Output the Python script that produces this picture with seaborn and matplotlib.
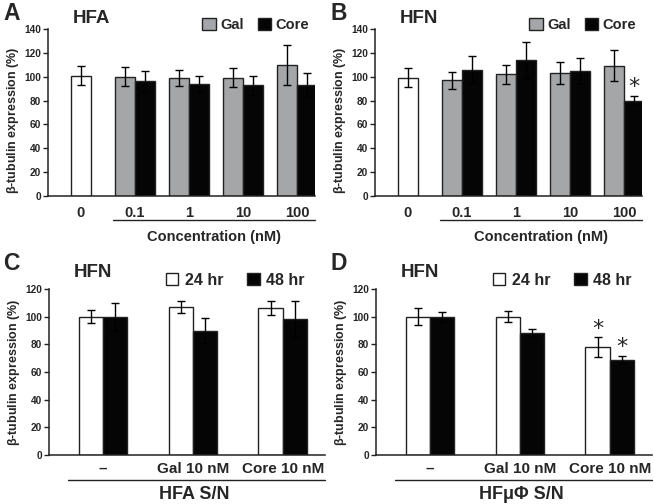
import matplotlib
matplotlib.use("Agg")
import matplotlib.pyplot as plt
import matplotlib.transforms as mtransforms
from matplotlib.patches import Patch
import seaborn as sns
import pandas as pd

sns.set_theme(style="ticks")
plt.rcParams["font.family"] = ["Liberation Sans", "DejaVu Sans"]
plt.rcParams["font.weight"] = "bold"
plt.rcParams["mathtext.fontset"] = "custom"
plt.rcParams["mathtext.rm"] = "Liberation Sans"
plt.rcParams["mathtext.default"] = "regular"

# ---------------- data ----------------
conc_labels = ["0", "0.1", "1", "10", "100"]
treat_concs = ["0.1", "1", "10", "100"]

A_ctrl, A_ctrl_err = 101, 8
A_gal = [100, 99, 99, 110]
A_gal_err = [8, 7, 8, 17]
A_core = [96, 94, 93, 93]
A_core_err = [9, 7, 8, 10]

B_ctrl, B_ctrl_err = 99, 8
B_gal = [97, 102, 103, 109]
B_gal_err = [7, 8, 9, 13]
B_core = [106, 114, 105, 80]
B_core_err = [11, 15, 11, 4]
B_star = [False, False, False, True]

sn_labels = ["\u2013", "Gal 10 nM", "Core 10 nM"]
C_24 = [100, 107, 106]
C_24_err = [4.5, 4, 5]
C_48 = [100, 90, 98]
C_48_err = [10, 9, 13]

D_24 = [100, 100, 78]
D_24_err = [6, 4, 7]
D_48 = [100, 88, 69]
D_48_err = [3.5, 3, 2.5]
D_star24 = [False, False, True]
D_star48 = [False, False, True]

GRAY = "#a4a6a9"
BLACK = "#050505"
EDGE = "#222222"

fig = plt.figure(figsize=(6.54, 5.04), dpi=100)


def style_axis(ax, ymax, label_y):
    sns.despine(ax=ax)
    for s in ["left", "bottom"]:
        ax.spines[s].set_linewidth(1.1)
        ax.spines[s].set_color("#222222")
    ax.set_ylim(0, ymax)
    ax.set_yticks(range(0, ymax + 1, 20))
    ax.tick_params(axis="y", length=3.5, width=1.0, pad=1.5, color="#222222",
                   labelsize=7.3)
    for t in ax.get_yticklabels():
        t.set_fontweight("bold")
    ax.set_xlabel("")
    ax.set_ylabel(r"$\beta$-tubulin expression (%)", fontsize=9,
                  fontweight="bold", labelpad=2.5)
    ax.yaxis.label.set_y(label_y)


def add_errorbars(ax, containers, errs):
    tops = []
    for cont, err in zip(containers, errs):
        xs = [b.get_x() + b.get_width() / 2 for b in cont]
        hs = [b.get_height() for b in cont]
        ax.errorbar(xs, hs, yerr=err, fmt="none", ecolor="black",
                    elinewidth=1.0, capsize=3, capthick=1.0, zorder=5)
        tops.append(list(zip(xs, [h + e for h, e in zip(hs, err)])))
    return tops


def put_stars(ax, ser, flags):
    for (x, top), s in zip(ser, flags):
        if s:
            ax.annotate("*", (x, top), xytext=(0, -1), textcoords="offset points",
                        ha="center", va="bottom", fontsize=16, fontweight="normal",
                        family="DejaVu Sans")


def conc_panel(ax, ctrl, ctrl_err, gal, gal_err, core, core_err, title, stars=None):
    df = pd.DataFrame({
        "conc": treat_concs * 2,
        "val": gal + core,
        "grp": ["Gal"] * 4 + ["Core"] * 4,
    })
    sns.barplot(data=df, x="conc", y="val", hue="grp", order=conc_labels,
                hue_order=["Gal", "Core"], palette=[GRAY, BLACK], width=0.74,
                errorbar=None, edgecolor=EDGE, linewidth=1.0, legend=False, ax=ax)
    hue_conts = list(ax.containers)
    dfc = pd.DataFrame({"conc": ["0"], "val": [ctrl]})
    sns.barplot(data=dfc, x="conc", y="val", order=conc_labels, color="white",
                width=0.37, errorbar=None, edgecolor=EDGE, linewidth=1.0, ax=ax)
    ctrl_cont = ax.containers[-1]
    tops = add_errorbars(ax, hue_conts + [ctrl_cont], [gal_err, core_err, [ctrl_err]])
    if stars is not None:
        put_stars(ax, tops[1], stars)
    ax.set_xlim(-0.61, 4.33)
    style_axis(ax, 140, 0.45)
    ax.tick_params(axis="x", length=0, labelsize=10.5, pad=7)
    for t in ax.get_xticklabels():
        t.set_fontweight("bold")
    trans = mtransforms.blended_transform_factory(ax.transData, ax.transAxes)
    ax.plot([0.59, 4.33], [-0.145, -0.145], color="#222222", lw=1.0,
            transform=trans, clip_on=False)
    ax.text(2.46, -0.245, "Concentration (nM)", transform=trans, ha="center",
            va="center", fontsize=10.5, fontweight="bold")
    ax.text(0.094, 1.06, title, transform=ax.transAxes, ha="left", va="center",
            fontsize=13.5, fontweight="bold")
    handles = [Patch(facecolor=GRAY, edgecolor=EDGE, label="Gal"),
               Patch(facecolor=BLACK, edgecolor=EDGE, label="Core")]
    ax.legend(handles=handles, loc="center right", bbox_to_anchor=(1.0, 1.024),
              ncol=2, frameon=False, handlelength=0.9, handleheight=0.9,
              handletextpad=0.3, columnspacing=1.0, borderaxespad=0,
              prop={"size": 10.5, "weight": "bold"})


def sn_panel(ax, v24, e24, v48, e48, xlabel, stars24=None, stars48=None):
    df = pd.DataFrame({
        "cond": sn_labels * 2,
        "val": v24 + v48,
        "time": ["24 hr"] * 3 + ["48 hr"] * 3,
    })
    sns.barplot(data=df, x="cond", y="val", hue="time", order=sn_labels,
                hue_order=["24 hr", "48 hr"], palette=["white", BLACK], width=0.54,
                errorbar=None, edgecolor=EDGE, linewidth=1.0, legend=False, ax=ax)
    tops = add_errorbars(ax, list(ax.containers), [e24, e48])
    if stars24 is not None:
        put_stars(ax, tops[0], stars24)
    if stars48 is not None:
        put_stars(ax, tops[1], stars48)
    ax.set_xlim(-0.6, 2.47)
    style_axis(ax, 120, 0.5)
    ax.tick_params(axis="x", length=0, labelsize=11, pad=5)
    for t in ax.get_xticklabels():
        t.set_fontweight("bold")
    trans = mtransforms.blended_transform_factory(ax.transData, ax.transAxes)
    ax.plot([-0.39, 2.47], [-0.15, -0.15], color="#222222", lw=1.0,
            transform=trans, clip_on=False)
    ax.text(1.02, -0.235, xlabel, transform=trans, ha="center", va="center",
            fontsize=13, fontweight="bold")
    ax.text(0.088, 1.10, "HFN", transform=ax.transAxes, ha="left", va="center",
            fontsize=13.5, fontweight="bold")
    handles = [Patch(facecolor="white", edgecolor=EDGE, label="24 hr"),
               Patch(facecolor=BLACK, edgecolor=EDGE, label="48 hr")]
    ax.legend(handles=handles, loc="center right", bbox_to_anchor=(0.95, 1.054),
              ncol=2, frameon=False, handlelength=0.8, handleheight=0.8,
              handletextpad=0.4, columnspacing=1.5, borderaxespad=0,
              prop={"size": 11.5, "weight": "bold"})


W, H = 654, 504
axA = fig.add_axes([48 / W, 1 - 196 / H, 267 / W, 167 / H])
axB = fig.add_axes([375 / W, 1 - 196 / H, 267 / W, 167 / H])
axC = fig.add_axes([49 / W, 1 - 455 / H, 276 / W, 166 / H])
axD = fig.add_axes([376 / W, 1 - 455 / H, 276 / W, 166 / H])

conc_panel(axA, A_ctrl, A_ctrl_err, A_gal, A_gal_err, A_core, A_core_err, "HFA")
conc_panel(axB, B_ctrl, B_ctrl_err, B_gal, B_gal_err, B_core, B_core_err, "HFN", stars=B_star)
sn_panel(axC, C_24, C_24_err, C_48, C_48_err, "HFA S/N")
sn_panel(axD, D_24, D_24_err, D_48, D_48_err, "HF\u03bc\u03a6 S/N",
         stars24=D_star24, stars48=D_star48)

for letter, x, y in [("A", 3, 14), ("B", 330, 14), ("C", 3, 263), ("D", 330, 263)]:
    fig.text(x / W, 1 - y / H, letter, ha="left", va="center", fontsize=16.5,
             fontweight="bold")

fig.savefig("out.png", dpi=100)
